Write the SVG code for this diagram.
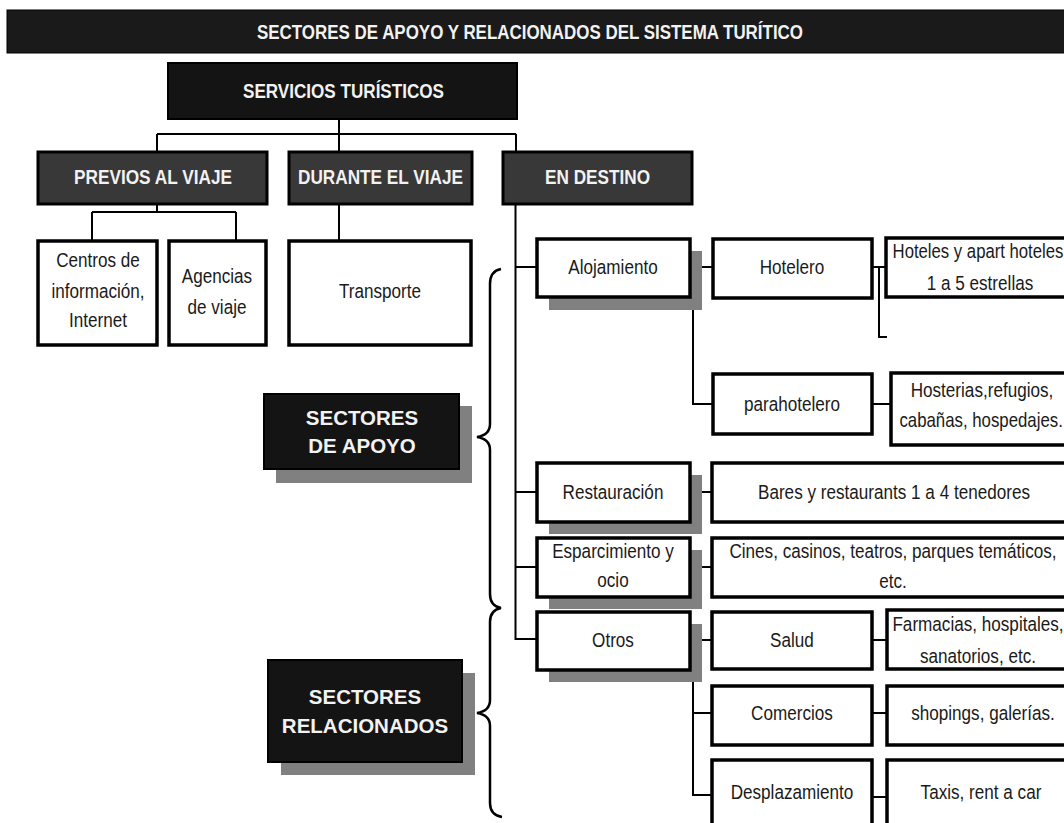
<svg xmlns="http://www.w3.org/2000/svg" width="1064" height="823" viewBox="0 0 1064 823">
<style>
.conn{stroke:#000;stroke-width:2;fill:none}
.brace{stroke:#000;stroke-width:2.5;fill:none}
.wbox{fill:#fff;stroke:#000;stroke-width:3.5}
.shadow{fill:#808080}
.hbox{fill:#383838;stroke:#000;stroke-width:3}
.kbox{fill:#141414;stroke:#000;stroke-width:2}
.t{font-family:'Liberation Sans',Arial,sans-serif;font-size:20.5px;fill:#1a1a1a;text-anchor:middle}
.h{font-family:'Liberation Sans',Arial,sans-serif;font-weight:bold;font-size:20px;fill:#f2f2f2;text-anchor:middle}
.s{font-family:'Liberation Sans',Arial,sans-serif;font-weight:bold;font-size:20.5px;fill:#f2f2f2;text-anchor:middle}
</style>
<rect width="1064" height="823" fill="#fff"/>
<g id="connectors">
<path class="conn" d="M339,119V152M157,134H516M157,134V152M516,134V152"/>
<path class="conn" d="M157,204V212M92,212H236M92,212V241M236,212V241"/>
<path class="conn" d="M339,204V241"/>
<path class="conn" d="M515.5,204V639H537M515.5,267H537M515.5,492H537M515.5,567H537"/>
<path class="conn" d="M702,267H713M872,267H886M879,267V337H887"/>
<path class="conn" d="M693,310V404H713M872,404H891"/>
<path class="conn" d="M702,492H712M702,567H712"/>
<path class="conn" d="M702,640H712M872,640H887"/>
<path class="conn" d="M693,682V795H712M693,713H712M872,713H887M872,797H887"/>
<path class="brace" d="M501,269Q490,271 490,284V424Q490,435 477,437Q490,439 490,450V594Q490,606 501,608Q490,610 490,622V700Q490,711 477,713Q490,715 490,726V803Q490,815 502,817"/>
</g>
<g id="title">
<rect x="7" y="10" width="1060" height="43" fill="#1a1a1a" stroke="#000" stroke-width="1"/>
<text class="h" x="530" y="38.5" font-size="21" textLength="546" lengthAdjust="spacingAndGlyphs">SECTORES DE APOYO Y RELACIONADOS DEL SISTEMA TURÍTICO</text>
</g>
<g id="servicios">
<rect class="kbox" x="168" y="63" width="349" height="56"/>
<text class="h" x="343.5" y="98" font-size="21" textLength="201" lengthAdjust="spacingAndGlyphs">SERVICIOS TURÍSTICOS</text>
</g>
<g id="previos">
<rect class="hbox" x="38" y="152" width="229" height="52"/>
<text class="h" x="153" y="184" textLength="158" lengthAdjust="spacingAndGlyphs">PREVIOS AL VIAJE</text>
</g>
<g id="durante">
<rect class="hbox" x="289" y="152" width="183" height="52"/>
<text class="h" x="380.5" y="184" textLength="165" lengthAdjust="spacingAndGlyphs">DURANTE EL VIAJE</text>
</g>
<g id="destino">
<rect class="hbox" x="503" y="152" width="189" height="52"/>
<text class="h" x="597.5" y="184" textLength="105" lengthAdjust="spacingAndGlyphs">EN DESTINO</text>
</g>
<g id="centros">
<rect class="wbox" x="38" y="241" width="119" height="104"/>
<text class="t" transform="scale(0.835 1)" x="117.37" y="267">Centros de</text>
<text class="t" transform="scale(0.835 1)" x="117.37" y="298">información,</text>
<text class="t" transform="scale(0.835 1)" x="117.37" y="327">Internet</text>
</g>
<g id="agencias">
<rect class="wbox" x="169" y="241" width="97" height="104"/>
<text class="t" transform="scale(0.835 1)" x="259.88" y="283">Agencias</text>
<text class="t" transform="scale(0.835 1)" x="259.88" y="314">de viaje</text>
</g>
<g id="transporte">
<rect class="wbox" x="289" y="241" width="182" height="104"/>
<text class="t" transform="scale(0.835 1)" x="455.09" y="298">Transporte</text>
</g>
<g id="alojamiento">
<rect class="shadow" x="549" y="251" width="153" height="59"/>
<rect class="wbox" x="537" y="239" width="153" height="58"/>
<text class="t" transform="scale(0.835 1)" x="734.13" y="274">Alojamiento</text>
</g>
<g id="hotelero">
<rect class="wbox" x="713" y="239" width="159" height="59"/>
<text class="t" transform="scale(0.835 1)" x="948.5" y="274">Hotelero</text>
</g>
<g id="hoteles">
<rect class="wbox" x="886" y="238" width="190" height="59"/>
<text class="t" transform="scale(0.815 1)" x="1200" y="258">Hoteles y apart hoteles</text>
<text class="t" transform="scale(0.835 1)" x="1173.65" y="290">1 a 5 estrellas</text>
</g>
<g id="parahotelero">
<rect class="wbox" x="713" y="374" width="159" height="60"/>
<text class="t" transform="scale(0.835 1)" x="948.5" y="411">parahotelero</text>
</g>
<g id="hosterias">
<rect class="wbox" x="891" y="373" width="185" height="72"/>
<text class="t" transform="scale(0.835 1)" x="1176.05" y="397">Hosterias,refugios,</text>
<text class="t" transform="scale(0.82 1)" x="1196.5" y="427">cabañas, hospedajes.</text>
</g>
<g id="restauracion">
<rect class="shadow" x="549" y="475" width="153" height="59"/>
<rect class="wbox" x="537" y="463" width="153" height="59"/>
<text class="t" transform="scale(0.835 1)" x="734.13" y="499">Restauración</text>
</g>
<g id="bares">
<rect class="wbox" x="712" y="463" width="362" height="59"/>
<text class="t" transform="scale(0.835 1)" x="1070.66" y="499">Bares y restaurants 1 a 4 tenedores</text>
</g>
<g id="esparcimiento">
<rect class="shadow" x="549" y="550" width="153" height="59"/>
<rect class="wbox" x="537" y="538" width="153" height="59"/>
<text class="t" transform="scale(0.835 1)" x="734.13" y="558">Esparcimiento y</text>
<text class="t" transform="scale(0.835 1)" x="734.13" y="587">ocio</text>
</g>
<g id="cines">
<rect class="wbox" x="712" y="538" width="362" height="59"/>
<text class="t" transform="scale(0.835 1)" x="1069.46" y="558">Cines, casinos, teatros, parques temáticos,</text>
<text class="t" transform="scale(0.835 1)" x="1069.46" y="588">etc.</text>
</g>
<g id="otros">
<rect class="shadow" x="549" y="624" width="153" height="58"/>
<rect class="wbox" x="537" y="612" width="153" height="58"/>
<text class="t" transform="scale(0.835 1)" x="734.13" y="647">Otros</text>
</g>
<g id="salud">
<rect class="wbox" x="712" y="612" width="160" height="57"/>
<text class="t" transform="scale(0.835 1)" x="948.5" y="647">Salud</text>
</g>
<g id="farmacias">
<rect class="wbox" x="887" y="610" width="190" height="59"/>
<text class="t" transform="scale(0.835 1)" x="1171.26" y="631">Farmacias, hospitales,</text>
<text class="t" transform="scale(0.835 1)" x="1171.26" y="663">sanatorios, etc.</text>
</g>
<g id="comercios">
<rect class="wbox" x="712" y="686" width="160" height="59"/>
<text class="t" transform="scale(0.835 1)" x="948.5" y="720">Comercios</text>
</g>
<g id="shopings">
<rect class="wbox" x="887" y="686" width="190" height="59"/>
<text class="t" transform="scale(0.835 1)" x="1177.25" y="720">shopings, galerías.</text>
</g>
<g id="desplazamiento">
<rect class="wbox" x="712" y="760" width="160" height="80"/>
<text class="t" transform="scale(0.835 1)" x="948.5" y="799">Desplazamiento</text>
</g>
<g id="taxis">
<rect class="wbox" x="887" y="760" width="190" height="80"/>
<text class="t" transform="scale(0.835 1)" x="1174.85" y="799">Taxis, rent a car</text>
</g>
<g id="sectores-apoyo">
<rect class="shadow" x="276" y="406" width="196" height="77"/>
<rect class="kbox" x="264" y="394" width="195" height="75"/>
<text class="s" x="362" y="424.5">SECTORES</text>
<text class="s" x="362" y="452.5">DE APOYO</text>
</g>
<g id="sectores-relacionados">
<rect class="shadow" x="281" y="673" width="194" height="102"/>
<rect class="kbox" x="268" y="660" width="194" height="102"/>
<text class="s" x="365" y="703.5">SECTORES</text>
<text class="s" x="365" y="732.5">RELACIONADOS</text>
</g>
</svg>
